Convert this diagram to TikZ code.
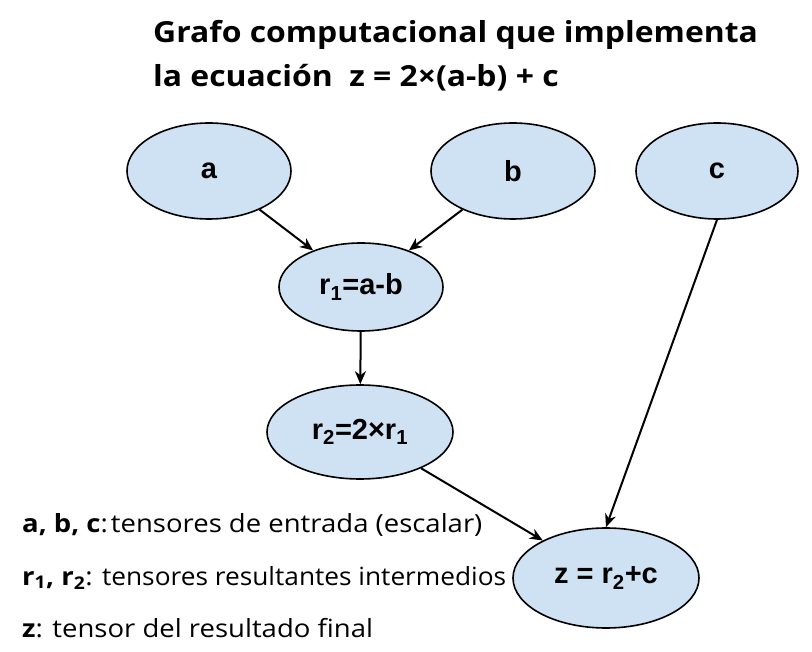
\documentclass[tikz,border=0pt]{standalone}
\usepackage{fontspec}
\setmainfont{Open Sans}[FakeStretch=1.1]
\newfontfamily\nodefont{Liberation Sans}
\usetikzlibrary{shapes.geometric,arrows.meta}
\definecolor{nodefill}{HTML}{CFE2F3}
\tikzset{
  op/.style={ellipse, draw=black, line width=1.6pt, fill=nodefill, inner sep=0pt,
             font=\nodefont\bfseries\fontsize{29}{32}\selectfont},
  conn/.style={line width=2pt, -{Stealth[length=13pt,width=11pt,inset=4pt]}},
  legend/.style={anchor=base west, inner sep=0pt, font=\fontsize{25}{28}\selectfont},
  title/.style={anchor=base west, inner sep=0pt, font=\bfseries\fontsize{29}{32}\selectfont},
}
\begin{document}
\begin{tikzpicture}[x=1pt,y=-1pt]
\useasboundingbox (0,0) rectangle (812,652);
\node[title] (t1) at (153,43) {Grafo computacional que implementa};
\node[title] (t2) at (153,87) {la ecuación\ \ z = 2×(a-b) + c};

\node[op, minimum width=164pt, minimum height=96pt] (a) at (209,171) {a};
\node[op, minimum width=164pt, minimum height=96pt] (b) at (513,171) {b};
\node[op, minimum width=162pt, minimum height=96pt] (c) at (717,171) {c};
\node[op, minimum width=164pt, minimum height=88pt] (r1) at (361,287) {r\textsubscript{1}=a-b};
\node[op, minimum width=186pt, minimum height=94pt] (r2) at (360,432) {r\textsubscript{2}=2×r\textsubscript{1}};
\node[op, minimum width=186pt, minimum height=100pt] (z) at (606,578) {z = r\textsubscript{2}+c};

\draw[conn] (a) -- (r1);
\draw[conn] (b) -- (r1);
\draw[conn] (r1) -- (r2);
\draw[conn] (r2) -- (z);
\draw[conn] (c.south) -- (z.north);

\node[legend] (l1) at (22,532) {\textbf{a, b, c}:\hspace{3pt}tensores de entrada (escalar)};
\node[legend] (l2) at (22,585) {\textbf{r\textsubscript{1}, r\textsubscript{2}}: \scalebox{0.955}[1]{tensores resultantes intermedios}};
\node[legend] (l3) at (22,637) {\textbf{z}: tensor del resultado final};
\end{tikzpicture}
\end{document}
